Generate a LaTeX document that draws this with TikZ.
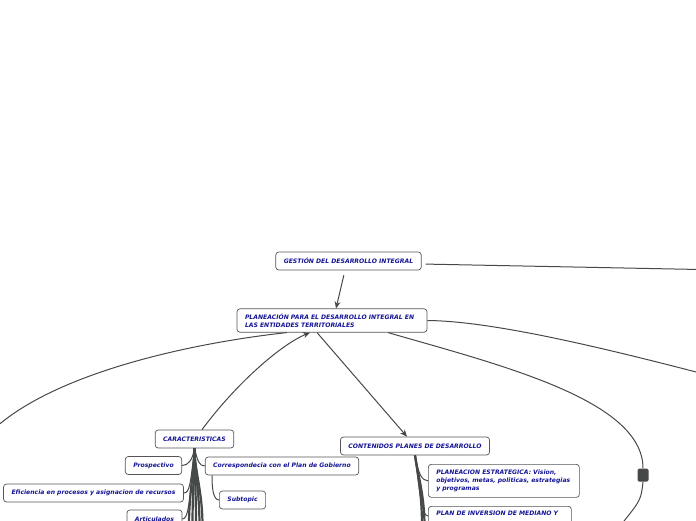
\documentclass[tikz,border=0pt]{standalone}
\usepackage{fontspec}
\setmainfont{DejaVu Sans}
\usepackage{tikz}
\usetikzlibrary{arrows.meta}
\definecolor{linegrey}{RGB}{70,73,73}
\definecolor{boxgrey}{RGB}{85,85,85}
\definecolor{topicblue}{RGB}{20,20,150}
\newcommand{\topicfont}{\fontsize{6.1}{7.7}\selectfont\bfseries\itshape}
\tikzstyle{topic} = [draw=boxgrey, line width=0.7pt, rounded corners=3pt, fill=white, text=topicblue, font=\topicfont, inner xsep=8pt, inner ysep=5pt, minimum height=18pt]
\tikzstyle{marker} = [fill=linegrey, rounded corners=1.5pt, minimum width=11pt, minimum height=13pt, inner sep=0pt]
\tikzstyle{link} = [draw=linegrey, line width=1pt]
\tikzstyle{trunk} = [draw=linegrey, line width=2.2pt]
\tikzstyle{arrow} = [link, ->, >={Stealth[length=7pt,width=6pt]}]

\begin{document}
\begin{tikzpicture}[x=1pt, y=-1pt, node distance=60pt]
    \useasboundingbox (0,0) rectangle (696,520);
    \clip (0,0) rectangle (696,520);

        % Main topics
        \node (gestion) [topic] at (348.5,261) {GESTIÓN DEL DESARROLLO INTEGRAL};
        \node (planeacion) [topic, text width=174pt, align=left, below of=gestion, xshift=-16.5pt, yshift=0.5pt] {PLANEACIÓN PARA EL DESARROLLO INTEGRAL EN\\LAS ENTIDADES TERRITORIALES};
        \node (carac) [topic, below of=planeacion, xshift=-137.5pt, yshift=-58.5pt] {CARACTERISTICAS};
        \node (contenidos) [topic, below of=planeacion, xshift=83pt, yshift=-65.5pt] {CONTENIDOS PLANES DE DESARROLLO};
        \node (fold) [marker, below of=planeacion, xshift=311pt, yshift=-94.5pt] {};

        % Subtopics of CARACTERISTICAS
        \node (prosp) [topic, below of=carac, xshift=-41pt, yshift=33.5pt] {Prospectivo};
        \node (corresp) [topic, below of=carac, xshift=87.5pt, yshift=33pt] {Correspondecia con el Plan de Gobierno};
        \node (efic) [topic, below of=carac, xshift=-101pt, yshift=6pt] {Eficiencia en procesos y asignacion de recursos};
        \node (artic) [topic, below of=carac, xshift=-40pt, yshift=-20pt] {Articulados};
        \node (sub) [topic, below of=corresp, xshift=-39.5pt, yshift=26pt] {Subtopic};

        % Subtopics of CONTENIDOS
        \node (estrat) [topic, text width=135pt, align=left, minimum height=33pt, below of=contenidos, anchor=north west, xshift=13pt, yshift=42pt] {PLANEACION ESTRATEGICA: Vision,\\objetivos, metas, politicas, estrategias\\y programas};
        \node (inversion) [topic, text width=127pt, align=left, text depth=14pt, below of=contenidos, anchor=north west, xshift=13pt, yshift=0pt] {PLAN DE INVERSION DE MEDIANO Y};

        % Loose ends off the page
        \coordinate (gestR) at (700,269.5);
        \coordinate (planR) at (700,373);
        \coordinate (planL) at (-5,428);
        \coordinate (foldS) at (620,526);
        \foreach \x [count=\i] in {189,192.5,196,199.5,202.5} \coordinate (cb\i) at (\x,526);
        \foreach \x [count=\i] in {422,424.5} \coordinate (kb\i) at (\x,526);

        % Connections from the main topics
        \draw [link, shorten <=4pt] ([yshift=-3pt]gestion.east) -- (gestR);
        \draw [arrow, shorten <=5pt] ([xshift=-3.5pt]gestion.south) -- ([xshift=4pt]planeacion.north);
        \draw [link] (planeacion.east) .. controls (490,321) and (596,346) .. (planR);
        \draw [link] ([xshift=56pt]planeacion.south) .. controls (500,365) and (643,400) .. (fold.north);
        \draw [link] (fold.south) .. controls (641,500) .. (foldS);
        \draw [link] ([xshift=-45pt]planeacion.south) .. controls (200,342) and (60,370) .. (planL);
        \draw [arrow] ([xshift=7.5pt]carac.north) .. controls (235,385) and (280,345) .. ([xshift=-22pt]planeacion.south);
        \draw [arrow] ([xshift=-15pt]planeacion.south) -- ([xshift=-8pt]contenidos.north);

        % Branches of CARACTERISTICAS
        \foreach \i in {1,...,5}
            \draw [trunk] (carac.south) .. controls +(0,22) and +(0,-35) .. (cb\i);
        \draw [link] (carac.south) .. controls +(-2,12) and +(6,0) .. (prosp.east);
        \draw [link] (carac.south) .. controls +(-4,35) and +(6,0) .. (efic.east);
        \draw [link] (carac.south) .. controls +(-5,55) and +(6,0) .. (artic.east);
        \draw [link] (carac.south) .. controls +(3,12) and +(-6,0) .. (corresp.west);
        \draw [link] ([xshift=-70pt]corresp.south) .. controls +(0,12) and +(-6,0) .. (sub.west);

        % Branches of CONTENIDOS
        \foreach \i in {1,2}
            \draw [trunk] (contenidos.south) .. controls +(3,20) and +(0,-30) .. (kb\i);
        \draw [link] (contenidos.south) .. controls +(3,18) and +(-6,0) .. (estrat.west);
        \draw [link] (contenidos.south) .. controls +(5,40) and +(-6,0) .. ([yshift=-10pt]inversion.north west);

    \end{tikzpicture}
\end{document}
